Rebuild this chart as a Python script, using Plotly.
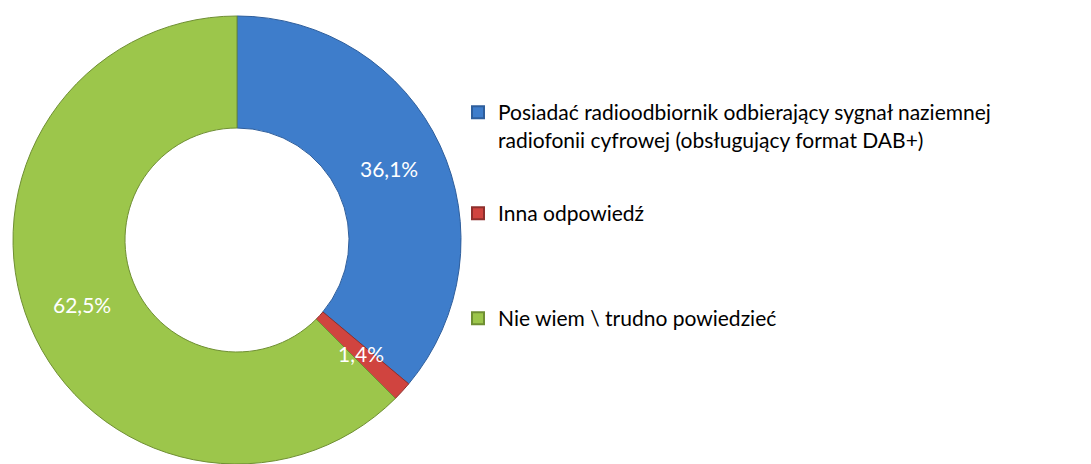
import math
import plotly.graph_objects as go

categories = [
    "Posiadać radioodbiornik odbierający sygnał naziemnej<br>radiofonii cyfrowej (obsługujący format DAB+)",
    "Inna odpowiedź",
    "Nie wiem \\ trudno powiedzieć",
]
values = [36.1, 1.4, 62.5]
value_labels = ["36,1%", "1,4%", "62,5%"]
colors = ["#3E7DCB", "#D0443F", "#9CC64B"]
edge_colors = ["#2E5E9C", "#8E2F2C", "#6F8F33"]

FONT = "Lato, Carlito, Calibri, sans-serif"
FS = 21
W, H = 1091, 464
HOLE = 0.5

# pie placement (pixels -> paper)
cx_px, cy_px, r_px = 237, 240, 224
pie_domain = dict(x=[(cx_px - r_px) / W, (cx_px + r_px) / W],
                  y=[1 - (cy_px + r_px) / H, 1 - (cy_px - r_px) / H])

fig = go.Figure()
fig.add_trace(go.Pie(
    labels=categories, values=values,
    text=value_labels, textinfo="none",
    hole=HOLE, sort=False, direction="clockwise", rotation=0,
    marker=dict(colors=colors, line=dict(color=edge_colors, width=1)),
    domain=pie_domain, showlegend=False, hoverinfo="label+text",
))

# value labels: centred in the ring on each slice's bisector
total = sum(values)
r_mid = r_px * (1 + HOLE) / 2
cum = 0.0
for v, lab in zip(values, value_labels):
    ang = 2 * math.pi * (cum + v / 2) / total  # clockwise from 12 o'clock
    cum += v
    px = cx_px + r_mid * math.sin(ang)
    py = cy_px - r_mid * math.cos(ang)
    fig.add_annotation(x=px / W, y=1 - py / H, xref="paper", yref="paper",
                       text=lab, showarrow=False, xanchor="center", yanchor="middle",
                       font=dict(family=FONT, size=FS, color="white"))

# legend entries (one legend per item to reproduce the uneven spacing)
legend_ids = ["legend", "legend2", "legend3"]
legend_top_px = [92, 193, 298]
for cat, col, edge, lid in zip(categories, colors, edge_colors, legend_ids):
    fig.add_trace(go.Scatter(
        x=[None], y=[None], mode="markers", name=cat,
        marker=dict(symbol="square", size=12, color=col, line=dict(color=edge, width=1)),
        legend=lid, showlegend=True, hoverinfo="skip",
    ))

legend_common = dict(
    x=458 / W, xanchor="left", yanchor="top",
    font=dict(family=FONT, size=FS, color="black"),
    bgcolor="rgba(0,0,0,0)", borderwidth=0,
    valign="top", itemsizing="constant", itemwidth=30,
)
layout_legends = {lid: dict(legend_common, y=1 - top / H)
                  for lid, top in zip(legend_ids, legend_top_px)}

fig.update_layout(
    width=W, height=H,
    margin=dict(l=0, r=0, t=0, b=0),
    paper_bgcolor="white", plot_bgcolor="white",
    xaxis=dict(visible=False), yaxis=dict(visible=False),
    **layout_legends,
)

fig.write_html("out.html", config={"displayModeBar": False},
               post_script="document.body.style.margin='0';")
